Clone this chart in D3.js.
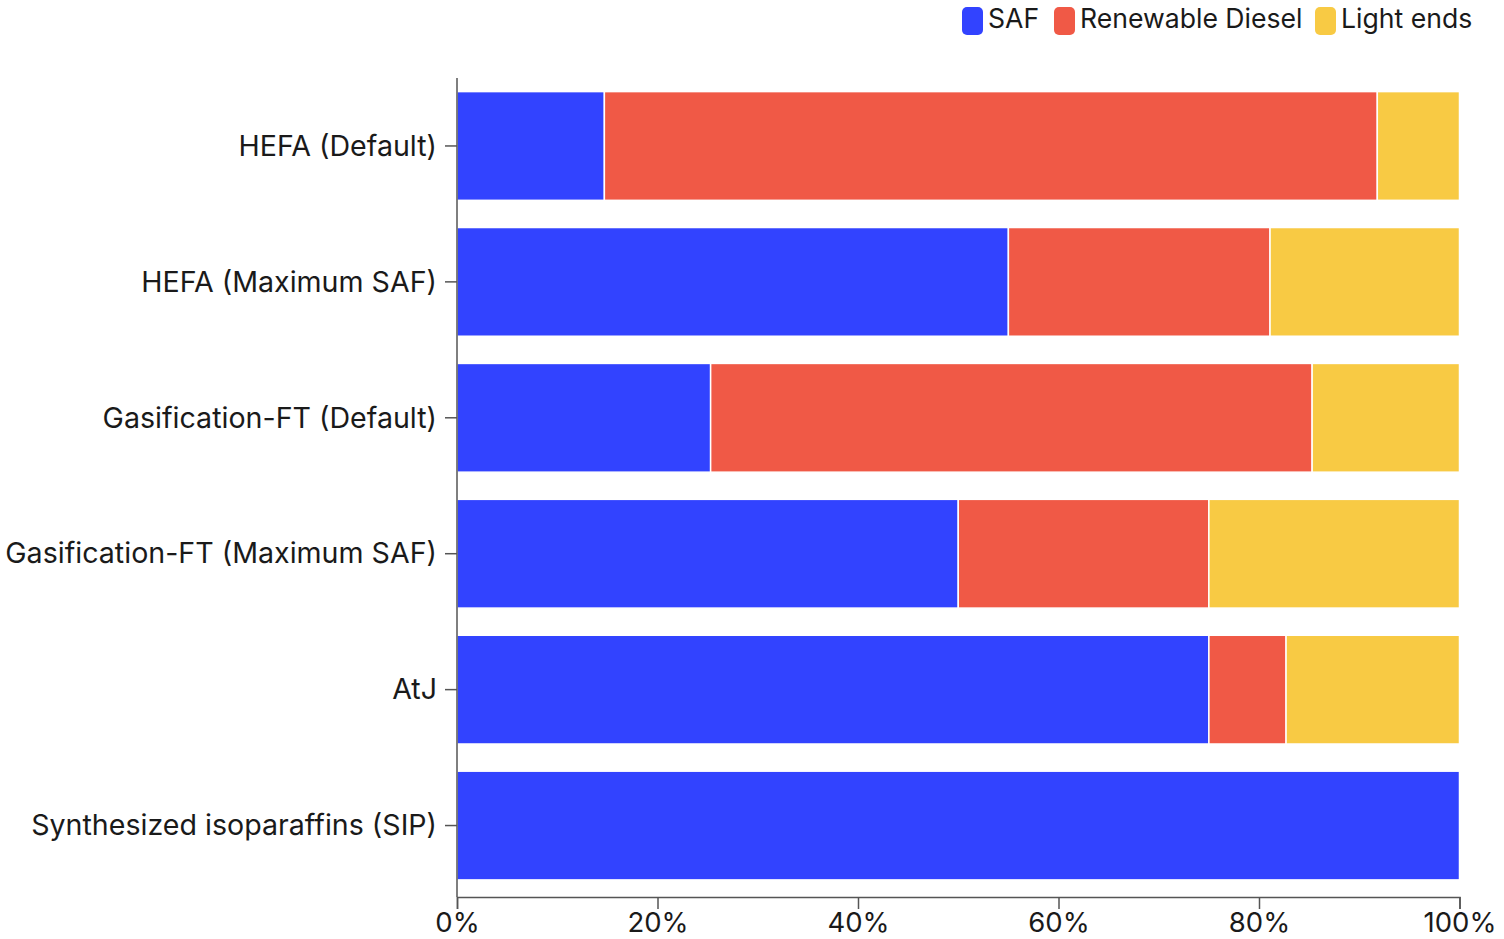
<!DOCTYPE html>
<html><head><meta charset="utf-8">
<script src="https://cdn.jsdelivr.net/npm/d3@7"></script>
<style>
body{margin:0;background:#fff;}
svg text{font-family:Inter, "Noto Sans", sans-serif;fill:#1a1a1a;}
</style></head>
<body><svg id="c" width="1504" height="939"></svg>
<script>
const categories = ["HEFA (Default)","HEFA (Maximum SAF)","Gasification-FT (Default)","Gasification-FT (Maximum SAF)","AtJ","Synthesized isoparaffins (SIP)"];
const seriesNames = ["SAF","Renewable Diesel","Light ends"];
const safValues = [14.7, 55.0, 25.3, 50.0, 75.0, 100];
const dieselValues = [77.1, 26.1, 60.0, 25.0, 7.7, 0];
const lightValues = [8.2, 18.9, 14.7, 25.0, 17.3, 0];
const xTicks = [0,20,40,60,80,100];
const colors = ["#3243FF","#F05946","#F8CA44"];

const svg = d3.select("#c");
const m = {left:457, right:1459.5, top:78, bandBottom:893.5, axisY:897};
const x = d3.scaleLinear().domain([0,100]).range([m.left,m.right]);
const y = d3.scaleBand().domain(categories).range([m.top,m.bandBottom]).paddingInner(0.2).paddingOuter(0.1);

const rows = categories.map((c,i)=>({cat:c, SAF:safValues[i], "Renewable Diesel":dieselValues[i], "Light ends":lightValues[i]}));
const stack = d3.stack().keys(seriesNames)(rows);

svg.append("g").selectAll("g").data(stack).join("g")
  .attr("fill",(d,i)=>colors[i])
  .selectAll("rect").data(d=>d.filter(p=>p[1]-p[0]>0)).join("rect")
  .attr("x",d=>x(d[0])).attr("width",d=>x(d[1])-x(d[0]))
  .attr("y",d=>y(d.data.cat)).attr("height",y.bandwidth())
  .attr("stroke","#fff").attr("stroke-width",1.5);

const xa = svg.append("g").attr("transform",`translate(0,${m.axisY})`)
  .call(d3.axisBottom(x).tickValues(xTicks).tickFormat(d=>d+"%").tickSize(12).tickSizeOuter(12));
xa.selectAll("text").attr("font-size",27.5).attr("dy",null).attr("y",35);
const ya = svg.append("g").attr("transform",`translate(${m.left},0)`)
  .call(d3.axisLeft(y).tickSize(12).tickSizeOuter(0).tickPadding(8));
ya.select(".domain").attr("d",`M-0,${m.top}V${m.axisY}`);
ya.selectAll("text").attr("font-size",28.6).attr("dy","0.34em");
svg.selectAll(".domain, .tick line").attr("stroke","#555").attr("stroke-width",1.5);

const lx = [962, 1054, 1315];
const lg = svg.append("g");
seriesNames.forEach((s,i)=>{
  lg.append("rect").attr("x",lx[i]).attr("y",7).attr("width",21).attr("height",28).attr("rx",5).attr("fill",colors[i]);
  lg.append("text").attr("x",lx[i]+26).attr("y",28).attr("font-size",26.6).text(s);
});
</script></body></html>
